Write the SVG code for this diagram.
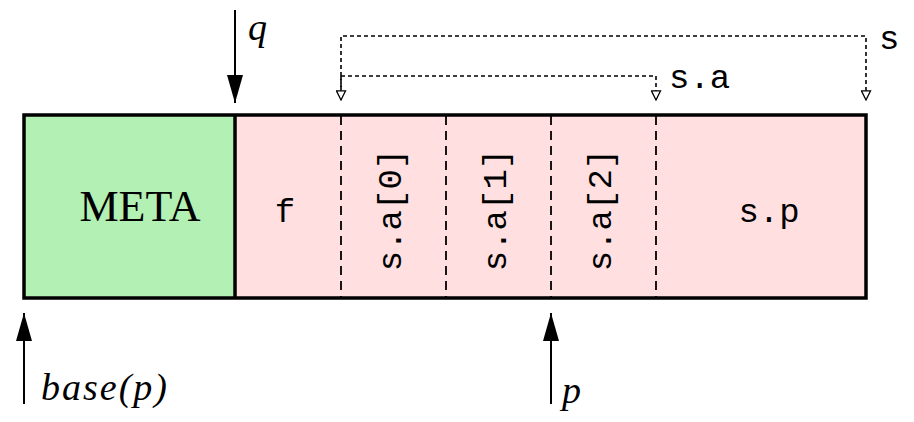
<svg xmlns="http://www.w3.org/2000/svg" width="914" height="422" viewBox="0 0 914 422">
<defs>
<style>
.mono{font-family:"Liberation Mono","DejaVu Sans Mono",monospace;font-size:34px;fill:#000}
.ital{font-family:"Liberation Serif","DejaVu Serif",serif;font-style:italic;font-size:38px;fill:#000}
.roman{font-family:"Liberation Serif","DejaVu Serif",serif;font-size:44px;fill:#000}
.solid{stroke:#000;stroke-width:2;fill:none}
.dotted{stroke:#000;stroke-width:1.6;fill:none;stroke-dasharray:4 3}
.dashed{stroke:#000;stroke-width:1.8;fill:none;stroke-dasharray:9 6}
</style>
<marker id="filled" viewBox="0 0 28 16" refX="28" refY="8" markerWidth="28" markerHeight="16" markerUnits="userSpaceOnUse" orient="auto">
<path d="M0,0 L28,8 L0,16 Z" fill="#000"/>
</marker>
<marker id="open" viewBox="0 0 12 12" refX="11" refY="6" markerWidth="11" markerHeight="11" markerUnits="userSpaceOnUse" orient="auto">
<path d="M1,1 L11,6 L1,11 Z" fill="#fff" stroke="#000" stroke-width="1.4"/>
</marker>
</defs>
<rect width="914" height="422" fill="#fff"/>
<g id="meta">
<rect x="24" y="115" width="211" height="183" fill="#b3f0b3"/>
<text class="roman" x="140" y="221" text-anchor="middle">META</text>
</g>
<g id="payload">
<rect x="235" y="115" width="631" height="183" fill="#ffdfe0"/>
</g>
<g id="field-f">
<text class="mono" x="285" y="222" text-anchor="middle">f</text>
</g>
<g id="field-sa0">
<text class="mono" transform="translate(391,210) rotate(-90)" x="0" y="10" text-anchor="middle">s.a[0]</text>
</g>
<g id="field-sa1">
<text class="mono" transform="translate(496,210) rotate(-90)" x="0" y="10" text-anchor="middle">s.a[1]</text>
</g>
<g id="field-sa2">
<text class="mono" transform="translate(601,210) rotate(-90)" x="0" y="10" text-anchor="middle">s.a[2]</text>
</g>
<g id="field-sp">
<text class="mono" x="769" y="222" text-anchor="middle">s.p</text>
</g>
<g id="dividers">
<line class="dashed" x1="341" y1="116" x2="341" y2="297"/>
<line class="dashed" x1="446" y1="116" x2="446" y2="297"/>
<line class="dashed" x1="551" y1="116" x2="551" y2="297"/>
<line class="dashed" x1="656" y1="116" x2="656" y2="297"/>
<line x1="235" y1="115" x2="235" y2="298" stroke="#000" stroke-width="3.5"/>
<rect x="24" y="115" width="842" height="183" fill="none" stroke="#000" stroke-width="3.5"/>
</g>
<g id="connectors">
<line class="solid" x1="235" y1="10" x2="235" y2="103" marker-end="url(#filled)"/>
<line class="solid" x1="24" y1="404" x2="24" y2="313" marker-end="url(#filled)"/>
<line class="solid" x1="551" y1="404" x2="551" y2="313" marker-end="url(#filled)"/>
<polyline class="dotted" points="341,90 341,36 866,36 866,100" marker-end="url(#open)"/>
<polyline class="dotted" points="341,76 656,76 656,100" marker-end="url(#open)"/>
<line class="dotted" x1="341" y1="76" x2="341" y2="100" marker-end="url(#open)"/>
</g>
<g id="labels">
<text class="ital" x="248" y="40">q</text>
<text class="ital" x="41" y="400" style="letter-spacing:2px">base(p)</text>
<text class="ital" x="562" y="403">p</text>
<text class="mono" x="669" y="88">s.a</text>
<text class="mono" x="879" y="49">s</text>
</g>
</svg>
